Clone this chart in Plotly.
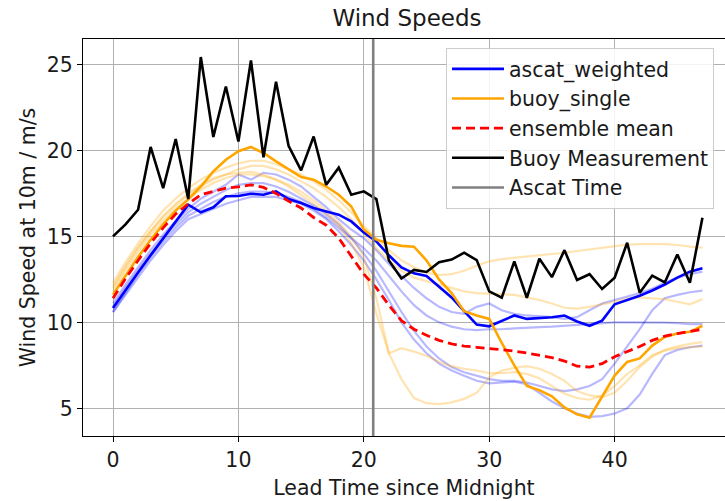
import plotly.graph_objects as go

# Lead time in hours since midnight
hours = list(range(48))

# Buoy observations
buoy_measurement = [15.0, 15.7, 16.55, 20.2, 17.8, 20.66, 17.17, 25.43, 20.78, 23.72,
                    20.52, 25.23, 19.6, 24.0, 20.27, 18.84, 20.81, 18.0, 19.0, 17.42,
                    17.62, 17.17, 13.6, 12.55, 13.05, 12.93, 13.5, 13.65, 14.05, 13.62,
                    11.8, 11.43, 13.55, 11.43, 13.7, 12.63, 14.2, 12.46, 12.8, 11.94,
                    12.6, 14.63, 11.72, 12.72, 12.32, 13.95, 12.3, 16.08]

# Ensemble members, ascat-weighted run (highlighted member first)
ascat_weighted = [10.84, 11.9, 12.9, 13.9, 14.9, 15.85, 16.84, 16.4, 16.69, 17.33,
                  17.35, 17.48, 17.42, 17.62, 17.17, 16.94, 16.65, 16.45, 16.26, 15.87,
                  15.23, 14.71, 13.9, 13.2, 12.85, 12.7, 12.1, 11.45, 10.65, 9.87,
                  9.77, 10.1, 10.4, 10.2, 10.25, 10.3, 10.4, 10.05, 9.8, 10.1,
                  11.05, 11.3, 11.55, 11.85, 12.2, 12.6, 12.95, 13.15]
ascat_members = [
    [11.1, 12.2, 13.2, 14.2, 15.1, 15.9, 16.6, 17.2, 17.6, 18.0,
     18.6, 18.3, 18.7, 18.6, 18.3, 17.9, 17.3, 16.7, 16.0, 15.4,
     14.9, 14.2, 13.4, 12.7, 12.0, 11.4, 10.9, 10.6, 10.5, 10.9,
     11.1, 10.7, 10.5, 10.4, 10.35, 10.3, 10.2, 10.3, 10.7, 11.1,
     11.3, 11.5, 11.7, 11.95, 12.3, 12.6, 12.8, 12.95],
    [10.9, 12.0, 13.0, 14.0, 14.9, 15.7, 16.4, 16.9, 17.3, 17.7,
     18.0, 18.1, 18.1, 17.9, 17.6, 17.2, 16.8, 16.3, 15.7, 14.9,
     14.0, 13.0, 11.8, 10.6, 9.5, 8.6, 7.9, 7.4, 7.1, 6.9,
     6.7, 6.6, 6.6, 6.5, 6.3, 6.1, 6.0, 6.1, 6.3, 6.7,
     7.6, 8.6, 9.6, 10.7, 11.4, 11.6, 11.75, 11.85],
    [10.6, 11.7, 12.8, 13.8, 14.7, 15.5, 16.2, 16.6, 17.0, 17.3,
     17.5, 17.6, 17.6, 17.5, 17.3, 17.0, 16.6, 16.1, 15.5, 14.9,
     14.3, 13.6, 12.7, 11.8, 11.0, 10.4, 10.0, 9.75, 9.6, 9.55,
     9.6, 9.6, 9.65, 9.7, 9.72, 9.75, 9.8, 9.85, 9.9, 9.95,
     10.0, 10.0, 10.0, 10.0, 9.98, 9.95, 9.9, 9.9],
    [10.6, 11.6, 12.6, 13.6, 14.5, 15.3, 16.0, 16.3, 16.6, 16.9,
     17.1, 17.3, 17.3, 17.3, 17.1, 16.9, 16.5, 16.0, 15.3, 14.5,
     13.6, 12.5, 11.3, 10.0, 9.0, 8.2, 7.6, 7.2, 6.9, 6.6,
     6.45, 6.5, 6.55, 6.4, 5.9, 5.4, 5.0, 4.7, 4.5, 4.55,
     4.7, 5.0, 5.8, 7.0, 8.1, 8.4, 8.55, 8.65],
]

# Ensemble members, single-buoy run (highlighted member first)
buoy_single = [11.6, 12.7, 13.8, 14.8, 15.7, 16.5, 17.15, 17.9, 18.78, 19.46,
               19.95, 20.2, 19.85, 19.36, 18.88, 18.45, 18.3, 17.9, 17.42, 16.74,
               15.4, 14.81, 14.6, 14.45, 14.4, 13.6, 12.5, 11.7, 10.65, 10.4,
               10.2, 8.8, 7.5, 6.3, 6.05, 5.7, 5.05, 4.65, 4.45, 5.7,
               6.9, 7.7, 7.9, 8.65, 9.15, 9.35, 9.45, 9.8]
single_members = [
    [12.3, 13.5, 14.6, 15.6, 16.5, 17.2, 17.8, 18.3, 18.7, 19.0,
     19.25, 19.4, 19.4, 19.2, 18.9, 18.6, 18.2, 17.7, 17.1, 16.4,
     15.6, 14.9, 14.2, 13.6, 13.2, 12.9, 12.75, 12.8, 13.0, 13.3,
     13.55, 13.68, 13.75, 13.85, 13.9, 14.0, 14.05, 14.15, 14.25, 14.35,
     14.45, 14.52, 14.55, 14.55, 14.55, 14.5, 14.4, 14.35],
    [12.0, 13.2, 14.3, 15.3, 16.1, 16.8, 17.4, 17.9, 18.3, 18.6,
     18.9, 19.1, 19.1, 18.9, 18.6, 18.2, 17.8, 17.3, 16.7, 16.0,
     15.2, 14.3, 13.6, 13.0, 12.6, 12.4, 12.2, 12.0, 11.8, 11.7,
     11.68, 11.65, 11.6, 11.45, 11.3, 11.1, 10.85, 10.8, 10.9, 11.05,
     11.2, 11.4, 11.45, 11.4, 11.35, 11.2, 11.05, 11.35],
    [12.1, 13.3, 14.4, 15.3, 16.2, 16.9, 17.5, 18.0, 18.4, 18.6,
     18.7, 18.75, 18.6, 18.3, 17.9, 17.4, 16.9, 16.3, 15.6, 14.6,
     13.2, 10.5, 8.2, 6.7, 5.6, 5.3, 5.25, 5.35, 5.55, 5.9,
     6.8, 7.2, 7.35, 7.45, 7.3, 7.0, 6.6, 6.0, 5.75, 5.65,
     5.9, 6.6, 7.4, 8.0, 8.4, 8.6, 8.75, 8.85],
    [11.8, 13.0, 14.1, 15.1, 15.9, 16.6, 17.2, 17.7, 18.1, 18.4,
     18.6, 18.6, 18.5, 18.3, 18.0, 17.6, 17.1, 16.5, 15.8, 15.0,
     13.8, 11.4, 8.2, 8.5, 8.3, 8.05, 7.7, 7.45, 7.3, 7.2,
     7.05, 7.05, 7.1, 7.0, 6.75, 6.3, 5.85, 5.6, 5.5, 5.75,
     6.3, 7.0, 7.5, 8.1, 8.35, 8.5, 8.55, 8.6],
]

# Ensemble mean
ensemble_mean = [11.4, 12.55, 13.6, 14.6, 15.5, 16.3, 16.9, 17.42, 17.62, 17.81,
                 17.88, 18.0, 17.85, 17.5, 17.05, 16.65, 16.1, 15.65, 14.9, 13.85,
                 12.8, 12.0, 11.0, 10.1, 9.6, 9.25, 8.95, 8.75, 8.62, 8.55,
                 8.48, 8.42, 8.33, 8.22, 8.1, 7.95, 7.75, 7.45, 7.4, 7.6,
                 8.0, 8.3, 8.6, 8.95, 9.2, 9.35, 9.48, 9.6]

# Time of the ASCAT overpass (hours)
ascat_time = 20.75

FONT = "DejaVu Sans"
TEXT = "#1a1a1a"
FS = 20.5

fig = go.Figure()

for m in ascat_members:
    fig.add_trace(go.Scatter(x=hours, y=m, mode="lines", showlegend=False,
                             line=dict(color="rgba(0,0,255,0.28)", width=2.2),
                             hoverinfo="skip"))
for m in single_members:
    fig.add_trace(go.Scatter(x=hours, y=m, mode="lines", showlegend=False,
                             line=dict(color="rgba(255,165,0,0.3)", width=2.2),
                             hoverinfo="skip"))

main = [
    ("ascat_weighted", ascat_weighted, dict(color="#0000ff", width=2.6)),
    ("buoy_single", buoy_single, dict(color="#ffa500", width=2.6)),
    ("ensemble mean", ensemble_mean, dict(color="#ff0000", width=2.8, dash="9px,5px")),
    ("Buoy Measurement", buoy_measurement, dict(color="#000000", width=2.6)),
]
for name, vals, ln in main:
    fig.add_trace(go.Scatter(x=hours, y=vals, mode="lines", name=name, line=ln))

# Legend entry for the overpass marker line
fig.add_trace(go.Scatter(x=[None], y=[None], mode="lines", name="Ascat Time",
                         line=dict(color="#808080", width=2.6)))

fig.add_shape(type="line", x0=ascat_time, x1=ascat_time, xref="x",
              y0=0, y1=1, yref="y domain",
              line=dict(color="#808080", width=2.6))

fig.update_layout(
    width=725, height=501,
    margin=dict(l=83, r=0, t=39, b=65),
    paper_bgcolor="white", plot_bgcolor="white",
    font=dict(family=FONT, size=FS, color=TEXT),
    title=dict(text="Wind Speeds", x=407 / 725, xref="container", xanchor="center",
               y=1 - 18 / 501, yref="container", yanchor="middle",
               font=dict(size=23, color=TEXT)),
    legend=dict(x=(446 - 83) / 642, xanchor="left", y=(436 - 48) / 397, yanchor="top",
                bgcolor="rgba(255,255,255,0.85)", bordercolor="#cccccc", borderwidth=1,
                font=dict(size=FS, color=TEXT), itemwidth=52),
    xaxis=dict(range=[-2.392, 48.80], tickvals=[0, 10, 20, 30, 40],
               showgrid=True, gridcolor="#b0b0b0", gridwidth=1.4, zeroline=False,
               showline=True, linecolor="#000000", linewidth=1.3, mirror=True,
               ticks="outside", ticklen=5, tickwidth=1.3, tickcolor="#000000",
               title=dict(text="Lead Time since Midnight", standoff=9,
                          font=dict(size=FS))),
    yaxis=dict(range=[3.39, 26.48], tickvals=[5, 10, 15, 20, 25],
               showgrid=True, gridcolor="#b0b0b0", gridwidth=1.4, zeroline=False,
               showline=True, linecolor="#000000", linewidth=1.3, mirror=False,
               ticks="outside", ticklen=5, tickwidth=1.3, tickcolor="#000000",
               title=dict(text="Wind Speed at 10m / m/s", standoff=5,
                          font=dict(size=FS))),
)

fig.write_html("out.html")
